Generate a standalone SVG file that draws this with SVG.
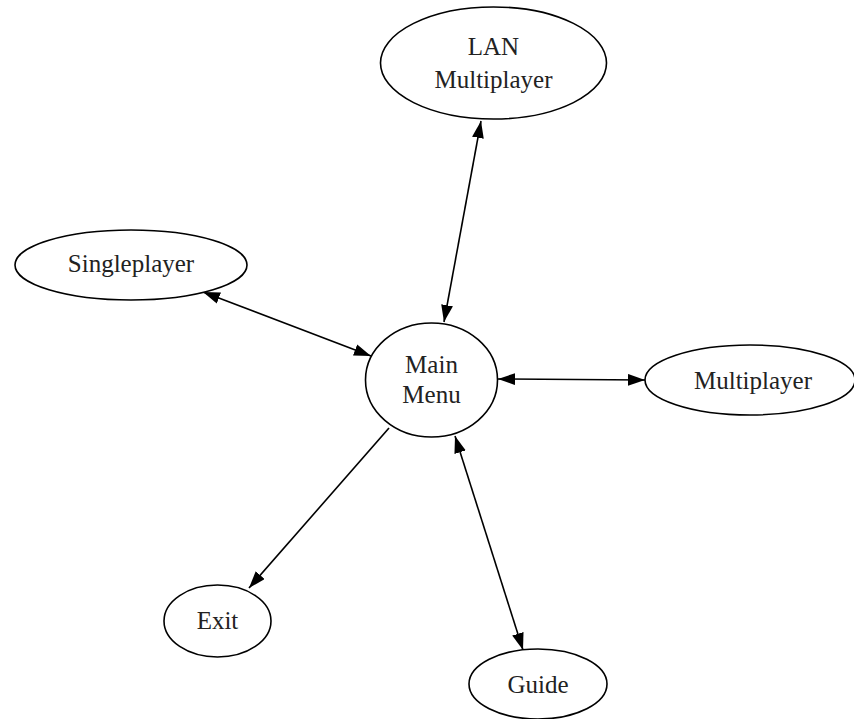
<svg xmlns="http://www.w3.org/2000/svg" width="854" height="719" viewBox="0 0 854 719">
<style>
.n ellipse{fill:#fff;stroke:#000;stroke-width:1.6}
.n text{font-family:"Liberation Serif","Times New Roman","DejaVu Serif",serif;font-size:25px;fill:#222;text-anchor:middle}
.e line{stroke:#000;stroke-width:1.6;fill:none}
</style>
<defs>
<marker id="ah" viewBox="0 0 10 7" refX="10" refY="3.5" markerWidth="17" markerHeight="12" markerUnits="userSpaceOnUse" orient="auto-start-reverse">
<path d="M0,0 L10,3.5 L0,7 z" fill="#000"/>
</marker>
</defs>
<rect width="854" height="719" fill="#fff"/>
<g id="edges" class="e">
<line x1="481" y1="121" x2="444" y2="322" marker-start="url(#ah)" marker-end="url(#ah)"/>
<line x1="203" y1="292" x2="371" y2="356" marker-start="url(#ah)" marker-end="url(#ah)"/>
<line x1="498" y1="379" x2="645" y2="380" marker-start="url(#ah)" marker-end="url(#ah)"/>
<line x1="389" y1="428" x2="249" y2="588" marker-end="url(#ah)"/>
<line x1="455" y1="436" x2="523" y2="650" marker-start="url(#ah)" marker-end="url(#ah)"/>
</g>
<g id="lan" class="n"><ellipse cx="493.5" cy="63" rx="113" ry="56"/><text x="493.5" y="55">LAN</text><text x="493.5" y="88">Multiplayer</text></g>
<g id="singleplayer" class="n"><ellipse cx="131" cy="265" rx="116" ry="35"/><text x="131" y="272">Singleplayer</text></g>
<g id="mainmenu" class="n"><ellipse cx="431.5" cy="380" rx="66" ry="57"/><text x="431.5" y="373">Main</text><text x="431.5" y="403">Menu</text></g>
<g id="multiplayer" class="n"><ellipse cx="750" cy="380" rx="105" ry="35"/><text x="753" y="389">Multiplayer</text></g>
<g id="exit" class="n"><ellipse cx="217.5" cy="621" rx="53.5" ry="36"/><text x="217.5" y="629">Exit</text></g>
<g id="guide" class="n"><ellipse cx="538" cy="684" rx="69" ry="35"/><text x="538" y="693">Guide</text></g>
</svg>
